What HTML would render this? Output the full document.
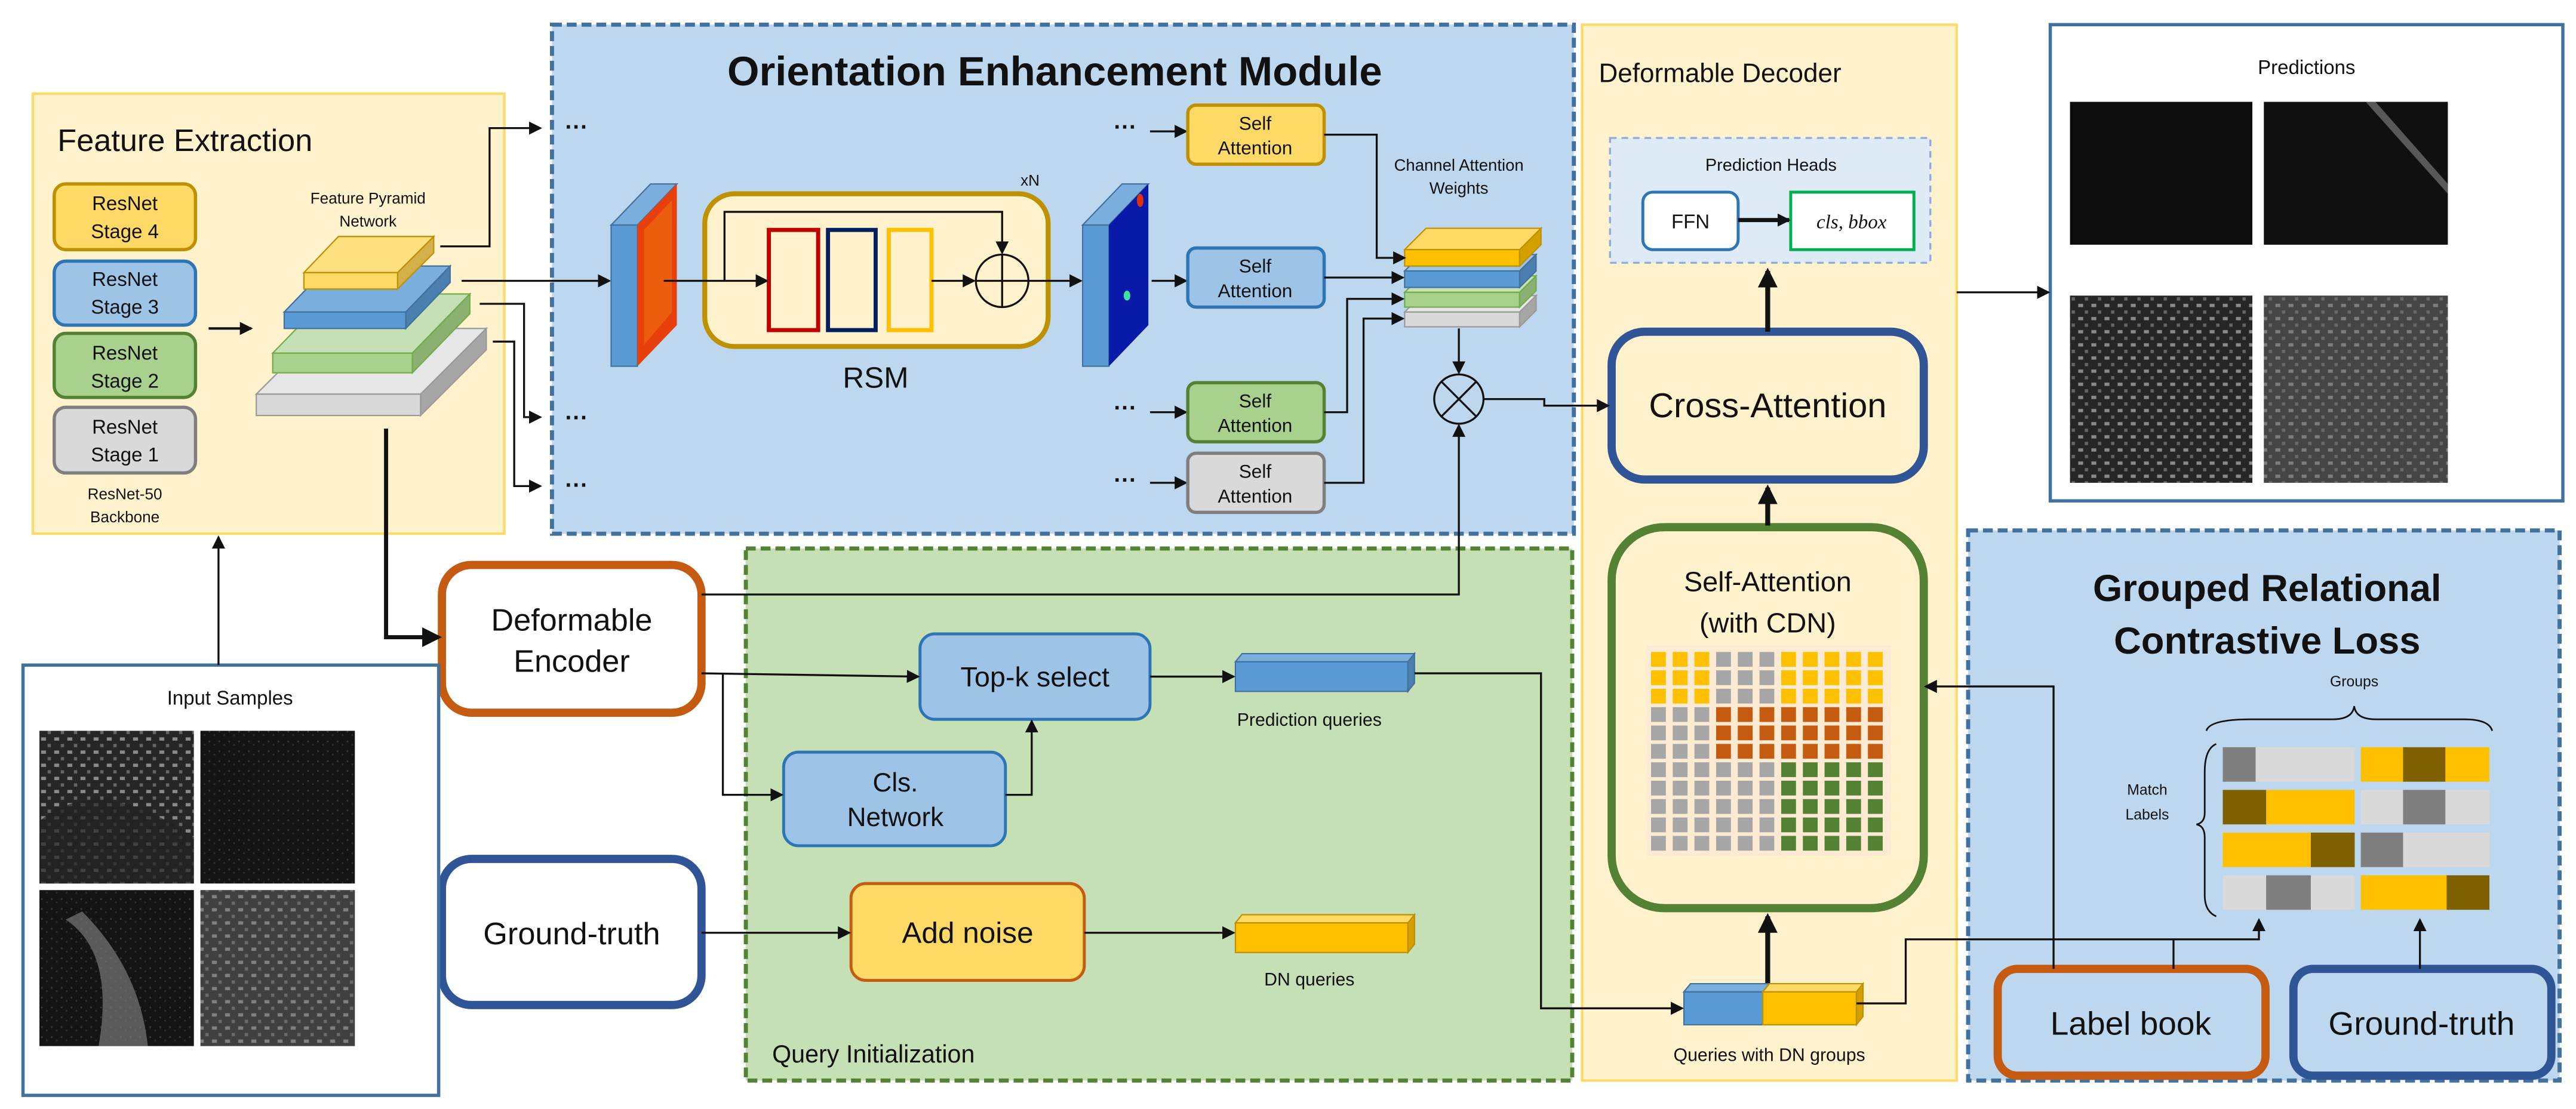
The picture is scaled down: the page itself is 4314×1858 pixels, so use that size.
<!DOCTYPE html>
<html><head><meta charset="utf-8"><style>
html,body{margin:0;padding:0;background:#fff}
svg{display:block}
text{font-family:"Liberation Sans Narrow","Liberation Sans",sans-serif;fill:#111}
</style></head><body>
<svg width="4314" height="1858" viewBox="0 0 1568 675.3" xmlns="http://www.w3.org/2000/svg">
<defs>
<marker id="a" markerWidth="8" markerHeight="8" refX="7" refY="4" orient="auto" markerUnits="userSpaceOnUse"><path d="M0,0 L8,4 L0,8 z" fill="#111"/></marker>
<marker id="b" markerWidth="12" markerHeight="12" refX="10" refY="6" orient="auto" markerUnits="userSpaceOnUse"><path d="M0,0 L12,6 L0,12 z" fill="#111"/></marker>
<pattern id="noise" width="6" height="6" patternUnits="userSpaceOnUse"><rect width="6" height="6" fill="#141414"/><rect x="1" y="1" width="1" height="1" fill="#3a3a3a"/><rect x="4" y="3" width="1" height="1" fill="#303030"/></pattern>
<pattern id="city" width="8" height="8" patternUnits="userSpaceOnUse"><rect width="8" height="8" fill="#262626"/><rect x="1" y="1" width="3" height="2" fill="#8a8a8a"/><rect x="5" y="5" width="2" height="2" fill="#666"/></pattern>
</defs>

<!-- Feature Extraction -->
<rect x="20" y="57" width="287" height="268" fill="#fff2cc" stroke="#ffd966" stroke-width="1.5"/>
<text x="35" y="92" font-size="19">Feature Extraction</text>
<g font-size="12" text-anchor="middle">
<rect x="33" y="112" width="86" height="40" rx="7" fill="#ffd966" stroke="#bf9000" stroke-width="2"/>
<text x="76" y="128">ResNet</text><text x="76" y="145">Stage 4</text>
<rect x="33" y="159" width="86" height="39" rx="7" fill="#9dc3e6" stroke="#2e75b6" stroke-width="2"/>
<text x="76" y="174">ResNet</text><text x="76" y="191">Stage 3</text>
<rect x="33" y="203" width="86" height="39" rx="7" fill="#a9d18e" stroke="#548235" stroke-width="2"/>
<text x="76" y="219">ResNet</text><text x="76" y="236">Stage 2</text>
<rect x="33" y="248" width="86" height="40" rx="7" fill="#d9d9d9" stroke="#7f7f7f" stroke-width="2"/>
<text x="76" y="264">ResNet</text><text x="76" y="281">Stage 1</text>
</g>
<text x="76" y="304" font-size="9.5" text-anchor="middle">ResNet-50</text>
<text x="76" y="318" font-size="9.5" text-anchor="middle">Backbone</text>
<text x="224" y="124" font-size="9.5" text-anchor="middle">Feature Pyramid</text>
<text x="224" y="138" font-size="9.5" text-anchor="middle">Network</text>
<line x1="127" y1="200" x2="153" y2="200" stroke="#111" stroke-width="1.5" marker-end="url(#a)"/>
<g stroke-width="0.8">
<polygon points="156,240 196,200 296,200 256,240" fill="#e7e6e6" stroke="#999"/>
<polygon points="256,240 296,200 296,213 256,253" fill="#a6a6a6" stroke="#999"/>
<rect x="156" y="240" width="100" height="13" fill="#d9d9d9" stroke="#999"/>
<polygon points="166,215 201,179 286,179 251,215" fill="#c5e0b4" stroke="#70ad47"/>
<polygon points="251,215 286,179 286,191 251,227" fill="#8caf74" stroke="#70ad47"/>
<rect x="166" y="215" width="85" height="12" fill="#a9d18e" stroke="#70ad47"/>
<polygon points="173,190 200,162 274,162 247,190" fill="#7aaedc" stroke="#41719c"/>
<polygon points="247,190 274,162 274,172 247,200" fill="#4a7fb0" stroke="#41719c"/>
<rect x="173" y="190" width="74" height="10" fill="#5b9bd5" stroke="#41719c"/>
<polygon points="185,166 206,144 264,144 242,166" fill="#ffe080" stroke="#bf9000"/>
<polygon points="242,166 264,144 264,154 242,176" fill="#d4b04a" stroke="#bf9000"/>
<rect x="185" y="166" width="57" height="10" fill="#ffd966" stroke="#bf9000"/>
</g>

<!-- OEM -->
<rect x="336" y="15" width="622" height="310" fill="#bdd7ee" stroke="#41719c" stroke-width="2.5" stroke-dasharray="6,3"/>
<text x="642" y="52" font-size="25" font-weight="bold" text-anchor="middle">Orientation Enhancement Module</text>
<g fill="none" stroke="#111" stroke-width="1.2">
<polyline points="268,150 298,150 298,78 329,78" marker-end="url(#a)"/>
<polyline points="281,171 371,171" marker-end="url(#a)"/>
<polyline points="292,185 319,185 319,254 329,254" marker-end="url(#a)"/>
<polyline points="300,208 313,208 313,296 329,296" marker-end="url(#a)"/>
</g>
<g font-size="14" font-weight="bold">
<text x="344" y="82">···</text><text x="344" y="259">···</text><text x="344" y="300">···</text>
<text x="678" y="82">···</text><text x="678" y="253">···</text><text x="678" y="297">···</text>
</g>
<g>
<rect x="372" y="137" width="16" height="86" fill="#5b9bd5" stroke="#41719c" stroke-width="0.8"/>
<polygon points="372,137 396,112 412,112 388,137" fill="#7aaedc" stroke="#41719c" stroke-width="0.8"/>
<polygon points="388,137 412,112 412,198 388,223" fill="#e8400c"/>
<polygon points="392,140 409,122 409,190 392,210" fill="#f06a10" opacity="0.7"/>
<rect x="659" y="137" width="16" height="86" fill="#5b9bd5" stroke="#41719c" stroke-width="0.8"/>
<polygon points="659,137 683,112 699,112 675,137" fill="#7aaedc" stroke="#41719c" stroke-width="0.8"/>
<polygon points="675,137 699,112 699,198 675,223" fill="#0a1aa8"/>
<ellipse cx="694" cy="122" rx="2" ry="4" fill="#e03010"/>
<ellipse cx="686" cy="180" rx="2" ry="3" fill="#40e0a0"/>
</g>
<rect x="429" y="118" width="209" height="93" rx="18" fill="#fff2cc" stroke="#bf9000" stroke-width="3"/>
<rect x="468" y="140" width="30" height="61" fill="none" stroke="#c00000" stroke-width="2.5"/>
<rect x="504" y="140" width="29" height="61" fill="none" stroke="#002060" stroke-width="2.5"/>
<rect x="541" y="140" width="26" height="61" fill="none" stroke="#ffc000" stroke-width="2.5"/>
<circle cx="610" cy="171" r="16" fill="none" stroke="#111" stroke-width="1.2"/>
<line x1="594" y1="171" x2="626" y2="171" stroke="#111" stroke-width="1.2"/>
<line x1="610" y1="155" x2="610" y2="187" stroke="#111" stroke-width="1.2"/>
<g fill="none" stroke="#111" stroke-width="1.2">
<polyline points="441,171 441,129 610,129 610,154" marker-end="url(#a)"/>
<line x1="404" y1="171" x2="467" y2="171" marker-end="url(#a)"/>
<line x1="567" y1="171" x2="593" y2="171" marker-end="url(#a)"/>
<line x1="626" y1="171" x2="658" y2="171" marker-end="url(#a)"/>
<line x1="701" y1="171" x2="722" y2="171" marker-end="url(#a)"/>
<line x1="700" y1="80" x2="722" y2="80" marker-end="url(#a)"/>
<line x1="700" y1="251" x2="722" y2="251" marker-end="url(#a)"/>
<line x1="700" y1="294" x2="722" y2="294" marker-end="url(#a)"/>
</g>
<text x="627" y="113" font-size="9.5" text-anchor="middle">xN</text>
<text x="533" y="236" font-size="18" text-anchor="middle">RSM</text>
<g font-size="11.5" text-anchor="middle">
<rect x="723" y="64" width="83" height="36" rx="5" fill="#ffd966" stroke="#bf9000" stroke-width="2"/>
<text x="764" y="79">Self</text><text x="764" y="94">Attention</text>
<rect x="723" y="151" width="83" height="36" rx="5" fill="#9dc3e6" stroke="#2e75b6" stroke-width="2"/>
<text x="764" y="166">Self</text><text x="764" y="181">Attention</text>
<rect x="723" y="233" width="83" height="36" rx="5" fill="#a9d18e" stroke="#548235" stroke-width="2"/>
<text x="764" y="248">Self</text><text x="764" y="263">Attention</text>
<rect x="723" y="276" width="83" height="36" rx="5" fill="#d9d9d9" stroke="#7f7f7f" stroke-width="2"/>
<text x="764" y="291">Self</text><text x="764" y="306">Attention</text>
</g>
<text x="888" y="104" font-size="10" text-anchor="middle">Channel Attention</text>
<text x="888" y="118" font-size="10" text-anchor="middle">Weights</text>
<g stroke-width="0.8">
<polygon points="855,190 865,180 935,180 925,190" fill="#e7e6e6" stroke="#999"/>
<rect x="855" y="190" width="70" height="9" fill="#d9d9d9" stroke="#999"/><polygon points="925,190 935,180 935,189 925,199" fill="#a6a6a6" stroke="#999"/>
<polygon points="855,178 865,168 935,168 925,178" fill="#c5e0b4" stroke="#70ad47"/>
<rect x="855" y="178" width="70" height="9" fill="#a9d18e" stroke="#70ad47"/><polygon points="925,178 935,168 935,177 925,187" fill="#8caf74" stroke="#70ad47"/>
<polygon points="855,165 865,155 935,155 925,165" fill="#9dc3e6" stroke="#41719c"/>
<rect x="855" y="165" width="70" height="10" fill="#5b9bd5" stroke="#41719c"/><polygon points="925,165 935,155 935,165 925,175" fill="#4a7fb0" stroke="#41719c"/>
<polygon points="855,152 868,139 938,139 925,152" fill="#ffd966" stroke="#bf9000"/>
<rect x="855" y="152" width="70" height="10" fill="#ffc000" stroke="#bf9000"/><polygon points="925,152 938,139 938,149 925,162" fill="#d4a000" stroke="#bf9000"/>
</g>
<g fill="none" stroke="#111" stroke-width="1.2">
<polyline points="806,82 838,82 838,157 855,157" marker-end="url(#a)"/>
<line x1="806" y1="169" x2="854" y2="169" marker-end="url(#a)"/>
<polyline points="806,251 820,251 820,182 854,182" marker-end="url(#a)"/>
<polyline points="806,294 830,294 830,194 854,194" marker-end="url(#a)"/>
<line x1="888" y1="200" x2="888" y2="227" marker-end="url(#a)"/>
</g>
<circle cx="888" cy="243" r="15" fill="none" stroke="#111" stroke-width="1.2"/>
<line x1="877" y1="232" x2="899" y2="254" stroke="#111" stroke-width="1.2"/>
<line x1="899" y1="232" x2="877" y2="254" stroke="#111" stroke-width="1.2"/>

<!-- Deformable Decoder -->
<rect x="963" y="15" width="228" height="643" fill="#fff2cc" stroke="#ffd966" stroke-width="1.5"/>
<text x="1047" y="50" font-size="16" text-anchor="middle">Deformable Decoder</text>
<rect x="980" y="84" width="195" height="76" fill="#deebf7" stroke="#8faadc" stroke-width="1.2" stroke-dasharray="4,3"/>
<text x="1078" y="104" font-size="10.5" text-anchor="middle">Prediction Heads</text>
<rect x="1000" y="117" width="58" height="35" rx="6" fill="#fff" stroke="#2e75b6" stroke-width="1.8"/>
<text x="1029" y="139" font-size="12" text-anchor="middle">FFN</text>
<rect x="1090" y="117" width="75" height="35" fill="#fff" stroke="#00b050" stroke-width="1.8"/>
<text x="1127" y="139" font-size="12" font-style="italic" text-anchor="middle" style="font-family:'Liberation Serif',serif">cls, bbox</text>
<line x1="1058" y1="134" x2="1089" y2="134" stroke="#111" stroke-width="2.5" marker-end="url(#a)"/>
<rect x="981" y="202" width="190" height="90" rx="20" fill="#fff2cc" stroke="#2f5597" stroke-width="5"/>
<text x="1076" y="254" font-size="21" text-anchor="middle">Cross-Attention</text>
<rect x="981" y="321" width="190" height="232" rx="32" fill="#fff2cc" stroke="#548235" stroke-width="5"/>
<text x="1076" y="360" font-size="17" text-anchor="middle">Self-Attention</text>
<text x="1076" y="385" font-size="17" text-anchor="middle">(with CDN)</text>
<rect x="1002" y="393" width="149" height="128" fill="#fbe5d6" opacity="0.6"/>
<g id="grid"></g>
<g stroke="#111" fill="none">
<line x1="1076" y1="320" x2="1076" y2="297" stroke-width="3" marker-end="url(#b)"/>
<line x1="1076" y1="202" x2="1076" y2="165" stroke-width="3" marker-end="url(#b)"/>
<line x1="1076" y1="600" x2="1076" y2="558" stroke-width="3" marker-end="url(#b)"/>
<polyline points="903,243 940,243 940,247 979,247" stroke-width="1.2" marker-end="url(#a)"/>
</g>
<g stroke-width="0.8">
<polygon points="1025,604 1029,599 1077,599 1073,604" fill="#7aaedc" stroke="#41719c"/>
<rect x="1025" y="604" width="48" height="20" fill="#5b9bd5" stroke="#41719c"/>
<polygon points="1073,604 1077,599 1134,599 1130,604" fill="#ffd966" stroke="#bf9000"/>
<rect x="1073" y="604" width="57" height="20" fill="#ffc000" stroke="#bf9000"/>
<polygon points="1130,604 1134,599 1134,619 1130,624" fill="#d4a000" stroke="#bf9000"/>
</g>
<text x="1077" y="646" font-size="11" text-anchor="middle">Queries with DN groups</text>

<!-- Predictions -->
<rect x="1248" y="15" width="312" height="290" fill="#fff" stroke="#41719c" stroke-width="2"/>
<text x="1404" y="45" font-size="12" text-anchor="middle">Predictions</text>
<rect x="1260" y="62" width="111" height="87" fill="#0d0d0d"/>
<rect x="1378" y="62" width="112" height="87" fill="#101010"/>
<path d="M1440,62 L1490,118 L1490,112 L1446,62z" fill="#777" opacity="0.7"/>
<rect x="1260" y="180" width="111" height="114" fill="url(#city)"/>
<rect x="1378" y="180" width="112" height="114" fill="url(#city)" opacity="0.75"/>
<rect x="1378" y="180" width="112" height="114" fill="#000" opacity="0.25"/>
<line x1="1191" y1="178" x2="1247" y2="178" stroke="#111" stroke-width="1.2" marker-end="url(#a)"/>

<!-- GRCL -->
<rect x="1198" y="323" width="360" height="335" fill="#bdd7ee" stroke="#41719c" stroke-width="2.5" stroke-dasharray="6,3"/>
<text x="1380" y="366" font-size="23" font-weight="bold" text-anchor="middle">Grouped Relational</text>
<text x="1380" y="398" font-size="23" font-weight="bold" text-anchor="middle">Contrastive Loss</text>
<text x="1433" y="418" font-size="9" text-anchor="middle">Groups</text>
<path d="M1343,445 Q1345,438 1370,438 L1420,438 Q1432,438 1433,430 Q1434,438 1446,438 L1500,438 Q1515,438 1517,445" fill="none" stroke="#111" stroke-width="1"/>
<path d="M1349,453 Q1342,456 1342,470 L1342,495 Q1342,501 1337,502 Q1342,503 1342,510 L1342,545 Q1342,555 1349,558" fill="none" stroke="#111" stroke-width="1"/>
<text x="1307" y="484" font-size="9" text-anchor="middle">Match</text>
<text x="1307" y="499" font-size="9" text-anchor="middle">Labels</text>
<g id="bars"></g>
<rect x="1216" y="590" width="163" height="65" rx="12" fill="#bdd7ee" stroke="#c55a11" stroke-width="5"/>
<text x="1297" y="630" font-size="20" text-anchor="middle">Label book</text>
<rect x="1396" y="590" width="157" height="65" rx="12" fill="#bdd7ee" stroke="#2f5597" stroke-width="5"/>
<text x="1474" y="630" font-size="20" text-anchor="middle">Ground-truth</text>
<g fill="none" stroke="#111" stroke-width="1.2">
<polyline points="1250,590 1250,418 1172,418" marker-end="url(#a)"/>
<line x1="1323" y1="590" x2="1323" y2="572"/>
<polyline points="1130,611 1160,611 1160,572 1375,572 1375,560" marker-end="url(#a)"/>
<line x1="1473" y1="590" x2="1473" y2="560" marker-end="url(#a)"/>
</g>

<!-- Query Init -->
<rect x="454" y="334" width="503" height="324" fill="#c5e0b4" stroke="#548235" stroke-width="2.5" stroke-dasharray="6,3"/>
<text x="470" y="647" font-size="15">Query Initialization</text>
<rect x="269" y="344" width="158" height="90" rx="18" fill="#fff" stroke="#c55a11" stroke-width="5"/>
<text x="348" y="384" font-size="19" text-anchor="middle">Deformable</text>
<text x="348" y="409" font-size="19" text-anchor="middle">Encoder</text>
<rect x="269" y="523" width="158" height="89" rx="18" fill="#fff" stroke="#2f5597" stroke-width="5"/>
<text x="348" y="575" font-size="19" text-anchor="middle">Ground-truth</text>
<rect x="560" y="386" width="140" height="52" rx="9" fill="#9dc3e6" stroke="#2e75b6" stroke-width="1.8"/>
<text x="630" y="418" font-size="17" text-anchor="middle">Top-k select</text>
<rect x="477" y="458" width="135" height="57" rx="9" fill="#9dc3e6" stroke="#2e75b6" stroke-width="1.8"/>
<text x="545" y="482" font-size="16" text-anchor="middle">Cls.</text>
<text x="545" y="503" font-size="16" text-anchor="middle">Network</text>
<rect x="518" y="538" width="142" height="59" rx="9" fill="#ffd966" stroke="#c55a11" stroke-width="1.8"/>
<text x="589" y="574" font-size="18" text-anchor="middle">Add noise</text>
<g stroke-width="0.8">
<polygon points="752,403 756,398 861,398 857,403" fill="#7aaedc" stroke="#41719c"/>
<rect x="752" y="403" width="105" height="18" fill="#5b9bd5" stroke="#41719c"/>
<polygon points="857,403 861,398 861,416 857,421" fill="#4a7fb0" stroke="#41719c"/>
<polygon points="752,562 756,557 861,557 857,562" fill="#ffd966" stroke="#bf9000"/>
<rect x="752" y="562" width="105" height="18" fill="#ffc000" stroke="#bf9000"/>
<polygon points="857,562 861,557 861,575 857,580" fill="#d4a000" stroke="#bf9000"/>
</g>
<text x="797" y="442" font-size="11" text-anchor="middle">Prediction queries</text>
<text x="797" y="600" font-size="11" text-anchor="middle">DN queries</text>
<g fill="none" stroke="#111" stroke-width="1.2">
<polyline points="235,261 235,388 267,388" stroke-width="2.5" marker-end="url(#b)"/>
<polyline points="427,362 888,362 888,259" marker-end="url(#a)"/>
<polyline points="427,410 559,412" marker-end="url(#a)"/>
<polyline points="440,410 440,484 476,484" marker-end="url(#a)"/>
<polyline points="612,484 628,484 628,439" marker-end="url(#a)"/>
<line x1="700" y1="412" x2="751" y2="412" marker-end="url(#a)"/>
<polyline points="861,410 938,410 938,614 1024,614" marker-end="url(#a)"/>
<line x1="427" y1="568" x2="517" y2="568" marker-end="url(#a)"/>
<line x1="660" y1="568" x2="751" y2="568" marker-end="url(#a)"/>
</g>

<!-- Input samples -->
<rect x="14" y="405" width="253" height="262" fill="#fff" stroke="#41719c" stroke-width="2"/>
<text x="140" y="429" font-size="12" text-anchor="middle">Input Samples</text>
<rect x="24" y="445" width="94" height="93" fill="url(#city)"/>
<path d="M24,500 Q60,470 118,510 L118,538 L24,538z" fill="#222" opacity="0.7"/>
<rect x="122" y="445" width="94" height="93" fill="url(#noise)"/>
<rect x="24" y="542" width="94" height="95" fill="url(#noise)"/>
<path d="M40,560 Q70,580 60,637 L90,637 Q85,590 50,555z" fill="#777" opacity="0.7"/>
<rect x="122" y="542" width="94" height="95" fill="url(#city)" opacity="0.8"/>
<rect x="122" y="542" width="94" height="95" fill="#000" opacity="0.2"/>
<line x1="133" y1="405" x2="133" y2="327" stroke="#111" stroke-width="1.2" marker-end="url(#a)"/>

<script>
(function(){
var ns="http://www.w3.org/2000/svg";
var g=document.getElementById("grid");
for(var r=0;r<11;r++)for(var c=0;c<11;c++){
 var col;
 if(r<3) col=(c>=3&&c<=5)?"#a6a6a6":"#ffc000";
 else if(r<6) col=(c<3)?"#a6a6a6":"#c55a11";
 else col=(c<6)?"#a6a6a6":"#548235";
 var e=document.createElementNS(ns,"rect");
 e.setAttribute("x",1005+c*13.2);e.setAttribute("y",397+r*11.2);
 e.setAttribute("width",9);e.setAttribute("height",9);e.setAttribute("fill",col);
 g.appendChild(e);
}
var G="#7f7f7f",L="#d9d9d9",Y="#ffc000",B="#7f6000";
var rows=[[[G,.25],[L,.75]],[[Y,.33],[B,.33],[Y,.34]],
[[B,.33],[Y,.67]],[[L,.33],[G,.33],[L,.34]],
[[Y,.67],[B,.33]],[[G,.33],[L,.67]],
[[L,.33],[G,.34],[L,.33]],[[Y,.67],[B,.33]]];
var b=document.getElementById("bars");
for(var i=0;i<4;i++)for(var s=0;s<2;s++){
 var segs=rows[i*2+s],x=s?1437:1353,w=s?78:80;
 segs.forEach(function(q){var e=document.createElementNS(ns,"rect");
  e.setAttribute("x",x);e.setAttribute("y",455+i*26);e.setAttribute("width",w*q[1]+0.3);
  e.setAttribute("height",21);e.setAttribute("fill",q[0]);b.appendChild(e);x+=w*q[1];});
}
})();
</script>
</svg>
</body></html>
